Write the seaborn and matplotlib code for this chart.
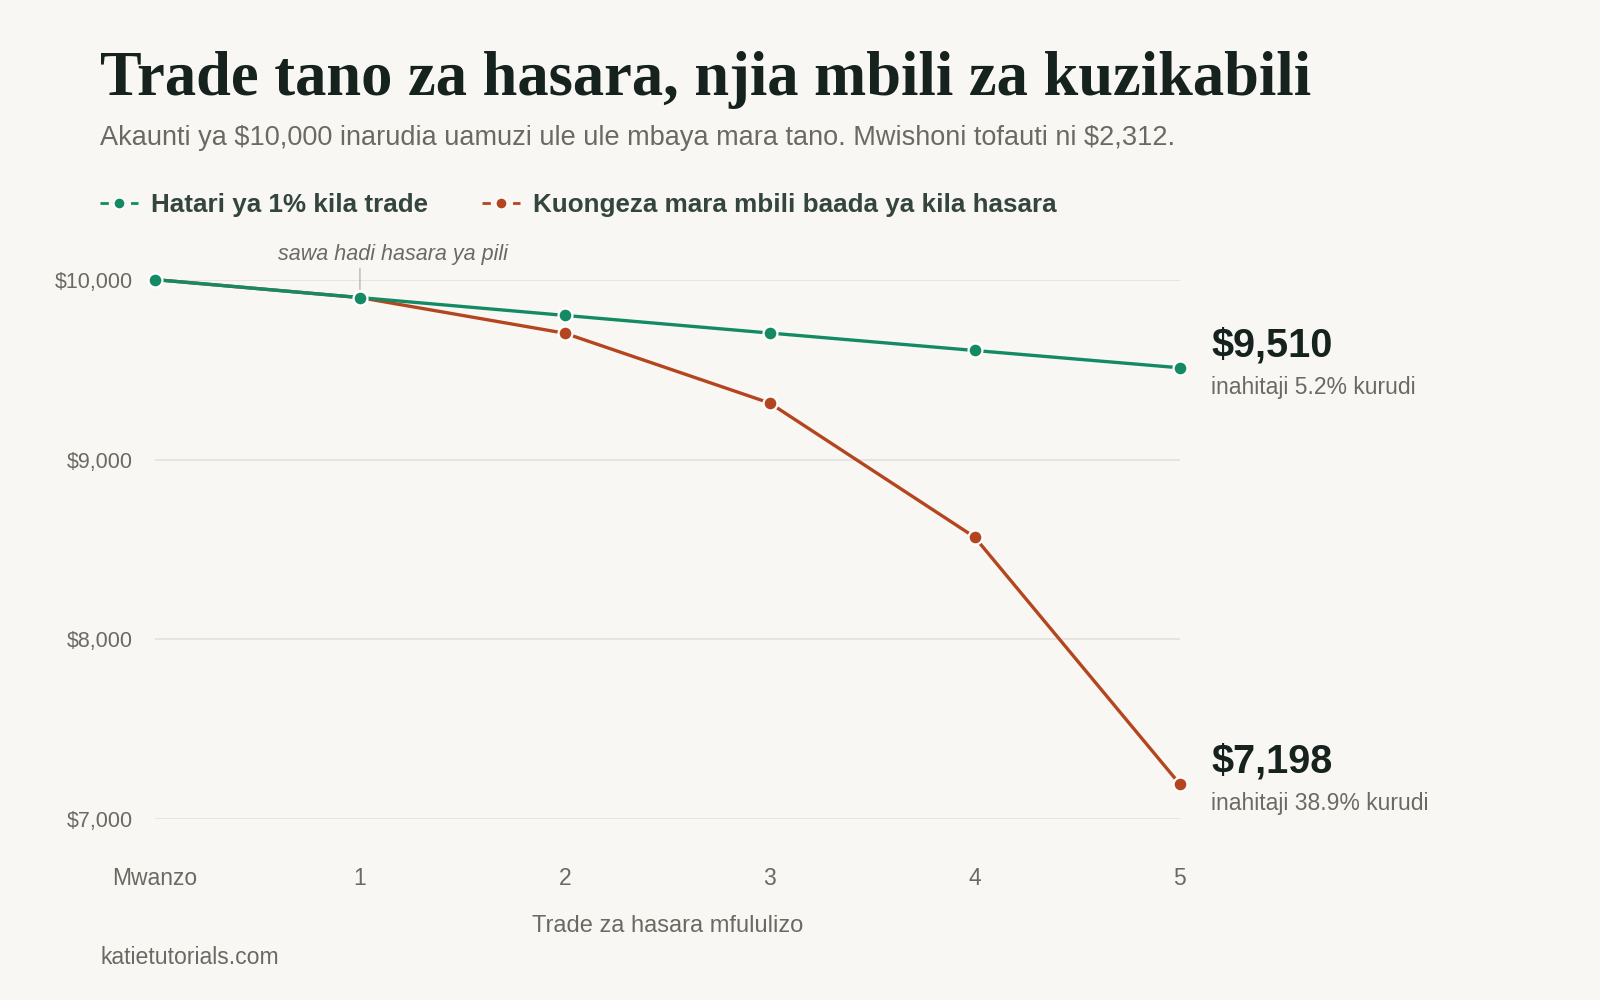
import matplotlib
matplotlib.use("Agg")
import matplotlib.pyplot as plt
from matplotlib.lines import Line2D
import pandas as pd
import seaborn as sns

# --- data -----------------------------------------------------------------
steps = [0, 1, 2, 3, 4, 5]
step_labels = ["Mwanzo", "1", "2", "3", "4", "5"]
fixed_risk = [10000, 9900, 9801, 9703, 9606, 9510]
doubling = [10000, 9900, 9702, 9314, 8569, 7198]
series_names = ["Hatari ya 1% kila trade",
                "Kuongeza mara mbili baada ya kila hasara"]
end_labels = ["$9,510", "$7,198"]
end_notes = ["inahitaji 5.2% kurudi", "inahitaji 38.9% kurudi"]
y_ticks = [7000, 8000, 9000, 10000]

GREEN = "#148a64"
ORANGE = "#b4461f"
BG = "#f8f7f3"
INK = "#15221d"
GREY = "#6b6a62"

df = pd.DataFrame({
    "step": steps * 2,
    "balance": fixed_risk + doubling,
    "series": [series_names[0]] * len(steps) + [series_names[1]] * len(steps),
})

sns.set_theme(style="white")
plt.rcParams["font.family"] = ["Liberation Sans", "DejaVu Sans"]
plt.rcParams["text.parse_math"] = False

fig = plt.figure(figsize=(16, 10), dpi=100, facecolor=BG)
ax = fig.add_axes([0.0969, 0.1806, 0.6403, 0.5398], facecolor=BG)

palette = {series_names[0]: GREEN, series_names[1]: ORANGE}
# orange first so the green line sits on top where they overlap
sns.lineplot(data=df, x="step", y="balance", hue="series", palette=palette,
             hue_order=[series_names[1], series_names[0]],
             marker="o", markersize=10, markeredgecolor="white",
             markeredgewidth=1.6, linewidth=2.4, legend=False, ax=ax,
             zorder=3)
for ln in ax.lines:
    ln.set_clip_on(False)

ax.set_xlim(0, 5)
ax.set_ylim(7000, 10000)
ax.set_yticks(y_ticks)
ax.set_yticklabels([f"${v:,}" for v in y_ticks])
ax.set_xticks(steps)
ax.set_xticklabels(step_labels)
ax.tick_params(axis="y", length=0, pad=16, labelsize=15.5, labelcolor=GREY)
ax.tick_params(axis="x", length=0, pad=34, labelsize=16.5, labelcolor=GREY)
ax.grid(axis="y", color="#e6e4de", linewidth=1.4, zorder=0)
ax.grid(axis="x", visible=False)
for s in ax.spines.values():
    s.set_visible(False)
ax.set_ylabel("")
ax.set_xlabel("Trade za hasara mfululizo", fontsize=17, color=GREY)
ax.xaxis.set_label_coords(0.5, -0.197)
ax.xaxis.label.set_va("center")

# end-of-line labels
finals = [fixed_risk[-1], doubling[-1]]
for val, big, note in zip(finals, end_labels, end_notes):
    ax.annotate(big, xy=(steps[-1], val), xytext=(23, 16),
                textcoords="offset points", ha="left", va="center",
                fontsize=28.5, fontweight="bold", color=INK,
                annotation_clip=False)
    ax.annotate(note, xy=(steps[-1], val), xytext=(23, -14),
                textcoords="offset points", ha="left", va="center",
                fontsize=16.5, color=GREY, annotation_clip=False)

# note at the point where the lines split
ax.annotate("sawa hadi hasara ya pili", xy=(steps[1], fixed_risk[1]),
            xytext=(24, 31), textcoords="offset points", ha="center",
            va="center", fontsize=15.5, style="italic", color=GREY,
            annotation_clip=False)
ax.annotate("", xy=(steps[1], fixed_risk[1]), xytext=(0, 21),
            textcoords="offset points",
            arrowprops=dict(arrowstyle="-", color="#b8b6ae", lw=1,
                            shrinkA=0, shrinkB=6),
            annotation_clip=False)

# legend
handles = [Line2D([0], [0], color=c, linestyle=(0, (3, 2.5)), linewidth=2,
                  marker="o", markersize=8, markeredgecolor="white",
                  markeredgewidth=1)
           for c in (GREEN, ORANGE)]
leg = fig.legend(handles, series_names, loc="center left",
                 bbox_to_anchor=(0.0625, 0.795), ncol=2, frameon=False,
                 borderpad=0, borderaxespad=0,
                 handlelength=1.45, handletextpad=0.5, columnspacing=2.1,
                 prop={"size": 18.7, "weight": "bold"})
for t in leg.get_texts():
    t.set_color("#34443e")

# title block
fig.text(0.0625, 0.905, "Trade tano za hasara, njia mbili za kuzikabili",
         fontsize=45, fontweight="bold", color=INK, va="baseline",
         family=["Liberation Serif", "DejaVu Serif"])
fig.text(0.0625, 0.855,
         "Akaunti ya $10,000 inarudia uamuzi ule ule mbaya mara tano. "
         "Mwishoni tofauti ni $2,312.",
         fontsize=19.5, color=GREY, va="baseline")
fig.text(0.0625, 0.043, "katietutorials.com", fontsize=16.6, color=GREY,
         va="center")

fig.savefig("out.png", dpi=100, facecolor=BG)
